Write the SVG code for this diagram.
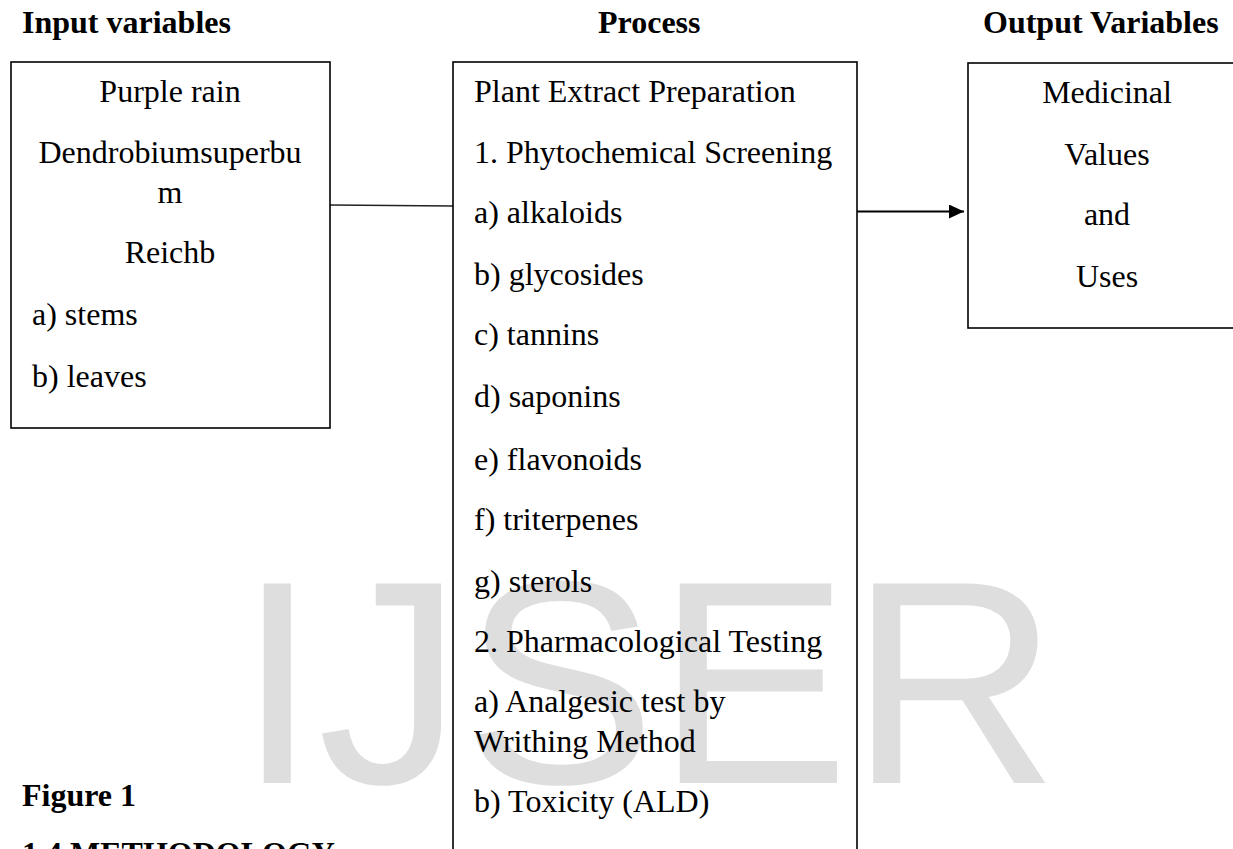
<svg xmlns="http://www.w3.org/2000/svg" width="1233" height="849" viewBox="0 0 1233 849">
<style>
.t{font-family:"Liberation Serif","Times New Roman",serif;font-size:32px;fill:#000}
.b{font-family:"Liberation Serif","Times New Roman",serif;font-size:32px;font-weight:bold;fill:#000}
.c{text-anchor:middle}
.box{fill:none;stroke:#000;stroke-width:1.6}
.wm{font-family:"Liberation Sans",Arial,sans-serif;font-size:290px;fill:#dedede}
</style>
<defs>
<marker id="ah" markerWidth="16" markerHeight="14" refX="15" refY="7" orient="auto" markerUnits="userSpaceOnUse">
<path d="M0,0 L15,7 L0,14 Z" fill="#000"/>
</marker>
</defs>
<rect width="1233" height="849" fill="#fff"/>
<text class="wm" x="237" y="783">IJSER</text>

<g id="headers">
<text class="b" x="22" y="33">Input variables</text>
<text class="b" x="598" y="33">Process</text>
<text class="b" x="983" y="33">Output Variables</text>
</g>

<g id="connectors">
<line x1="330" y1="205" x2="453" y2="206" stroke="#222" stroke-width="1.3"/>
<line x1="857" y1="211.5" x2="964" y2="211.5" stroke="#000" stroke-width="2.2" marker-end="url(#ah)"/>
</g>

<g id="input">
<rect class="box" x="11" y="62" width="319" height="366"/>
<text class="t c" x="170" y="102">Purple rain</text>
<text class="t c" x="170" y="163">Dendrobiumsuperbu</text>
<text class="t c" x="170" y="203">m</text>
<text class="t c" x="170" y="263">Reichb</text>
<text class="t" x="32" y="325">a) stems</text>
<text class="t" x="32" y="387">b) leaves</text>
</g>

<g id="process">
<rect class="box" x="453" y="62" width="404" height="840"/>
<text class="t" x="474" y="102">Plant Extract Preparation</text>
<text class="t" x="474" y="163">1. Phytochemical Screening</text>
<text class="t" x="474" y="223">a) alkaloids</text>
<text class="t" x="474" y="285">b) glycosides</text>
<text class="t" x="474" y="345">c) tannins</text>
<text class="t" x="474" y="407">d) saponins</text>
<text class="t" x="474" y="470">e) flavonoids</text>
<text class="t" x="474" y="530">f) triterpenes</text>
<text class="t" x="474" y="592">g) sterols</text>
<text class="t" x="474" y="652">2. Pharmacological Testing</text>
<text class="t" x="474" y="712">a) Analgesic test by</text>
<text class="t" x="474" y="752">Writhing Method</text>
<text class="t" x="474" y="812">b) Toxicity (ALD)</text>
</g>

<g id="output">
<rect class="box" x="968" y="63" width="300" height="265"/>
<text class="t c" x="1107" y="103">Medicinal</text>
<text class="t c" x="1107" y="165">Values</text>
<text class="t c" x="1107" y="225">and</text>
<text class="t c" x="1107" y="287">Uses</text>
</g>

<g id="caption">
<text class="b" x="22" y="806">Figure 1</text>
<text class="b" x="22" y="864">1.4 METHODOLOGY</text>
</g>
</svg>
